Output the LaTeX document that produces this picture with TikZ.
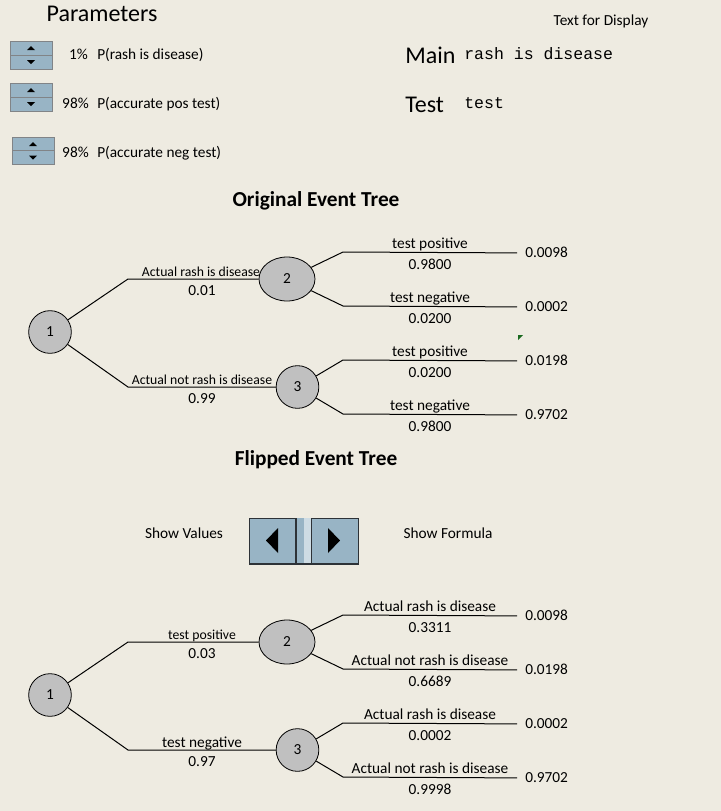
\documentclass[tikz,border=0pt]{standalone}
\usepackage{fontspec}
\setmainfont{Carlito}
\newfontfamily\monofont{Liberation Mono}
\usetikzlibrary{positioning, calc, shapes.geometric}

\definecolor{sheetbg}{RGB}{238,235,225}
\definecolor{nodegray}{RGB}{192,192,192}
\definecolor{btnblue}{RGB}{152,180,197}
\definecolor{btnlight}{RGB}{206,220,228}
\definecolor{btndark}{RGB}{45,50,55}
\definecolor{flaggreen}{RGB}{25,105,30}

\begin{document}
\begin{tikzpicture}[
    x=0.75pt, y=-0.75pt,
    font=\fontsize{11.5}{13}\selectfont,
    chance/.style={draw, circle, minimum size=32pt, inner sep=0pt,
                   fill=nodegray, line width=0.6pt},
    chanceE/.style={draw, ellipse, minimum width=42pt, minimum height=33pt,
                    inner sep=0pt, fill=nodegray, line width=0.6pt},
    branch/.style={line width=0.75pt, black},
    lbl/.style={inner sep=0pt, text height=0.68em, text depth=0pt, yshift=-1pt},
    small/.style={lbl, font=\fontsize{10.3}{12}\selectfont},
    endv/.style={anchor=west, inner xsep=6pt, inner ysep=0pt,
                 text height=0.68em, text depth=0pt, yshift=-0.8pt},
    spin/.style={fill=btnblue, draw=btndark!60, line width=0.5pt},
    bar/.style={fill=btnblue, draw=btndark, line width=0.6pt},
    big/.style={lbl, font=\fontsize{18}{20}\selectfont, yshift=-2pt},
    head/.style={lbl, font=\fontsize{16}{18}\selectfont\bfseries},
    mono/.style={lbl, font=\monofont\fontsize{12.4}{14}\selectfont},
]

% === Sheet ===
\fill[sheetbg] (0,0) rectangle (721,811);
\useasboundingbox (0,0) rectangle (721,811);

% === Parameters ===
\node[big] (ptitle) at (102,13) {Parameters};

\draw[spin] (10,41) rectangle (52,55);
\draw[spin] (10,55) rectangle (52,69);
\fill (27,50) -- (35,50) -- (31,46) -- cycle;
\fill (27,60) -- (35,60) -- (31,64) -- cycle;

\draw[spin] (10,83) rectangle (52,97);
\draw[spin] (10,97) rectangle (52,111);
\fill (27,92) -- (35,92) -- (31,88) -- cycle;
\fill (27,102) -- (35,102) -- (31,106) -- cycle;

\draw[spin] (12,137) rectangle (54,150.5);
\draw[spin] (12,150.5) rectangle (54,164);
\fill (29,146) -- (37,146) -- (33,142) -- cycle;
\fill (29,155.5) -- (37,155.5) -- (33,159.5) -- cycle;

\node[lbl, anchor=east] (pct1) at (88,54) {1\%};
\node[lbl, anchor=west] (par1) at (97,54) {P(rash is disease)};
\node[lbl, anchor=east] (pct2) at (89,103) {98\%};
\node[lbl, anchor=west] (par2) at (97,103) {P(accurate pos test)};
\node[lbl, anchor=east] (pct3) at (89,152) {98\%};
\node[lbl, anchor=west] (par3) at (97,152) {P(accurate neg test)};

% === Text for Display ===
\node[lbl] (dtitle) at (601,20) {Text for Display};
\node[big, anchor=west] (mainlbl) at (405,55) {Main};
\node[mono, anchor=west] (maintxt) at (464,54) {rash is disease};
\node[big, anchor=west] (testlbl) at (405,104) {Test};
\node[mono, anchor=west] (testtxt) at (464,103) {test};

% === Original Event Tree ===
\node[head] (ttl1) at (316,201) {Original Event Tree};

\coordinate (ka2) at (128,279);
\coordinate (ka3) at (128,387);
\coordinate (kb1) at (343,252);
\coordinate (kb2) at (343,306);
\coordinate (kb3) at (343,360);
\coordinate (kb4) at (343,414);

\node[small] at (201,271) {Actual rash is disease};
\node[lbl] at (202,290) {0.01};
\node[small] at (202,379) {Actual not rash is disease};
\node[lbl] at (202,398) {0.99};

\node[chance] (a1) at (50,332) {1};
\node[chanceE] (a2) at (287,279) {2};
\node[chance] (a3) at (297.5,387) {3};

\node[endv] (ea1) at (517,252) {0.0098};
\node[endv] (ea2) at (517,306) {0.0002};
\node[endv] (ea3) at (517,360) {0.0198};
\node[endv] (ea4) at (517,414) {0.9702};

\draw[branch] (a1) -- (ka2) -- (a2);
\draw[branch] (a1) -- (ka3) -- (a3);
\draw[branch] (a2) -- (kb1) -- (ea1);
\draw[branch] (a2) -- (kb2) -- (ea2);
\draw[branch] (a3) -- (kb3) -- (ea3);
\draw[branch] (a3) -- (kb4) -- (ea4);

\node[lbl] at (430,243) {test positive};
\node[lbl] at (430,264) {0.9800};
\node[lbl] at (430,297) {test negative};
\node[lbl] at (430,318) {0.0200};
\node[lbl] at (430,351) {test positive};
\node[lbl] at (430,372) {0.0200};
\node[lbl] at (430,405) {test negative};
\node[lbl] at (430,426) {0.9800};

% comment flag
\fill[flaggreen] (518,335) -- (523,335) -- (518,340) -- cycle;

% === Flipped Event Tree ===
\node[head] (ttl2) at (316,460) {Flipped Event Tree};

\node[lbl] (showval) at (184,533) {Show Values};
\node[lbl] (showform) at (448,533) {Show Formula};

\draw[bar] (249,518) rectangle (295,564);
\fill[btnblue] (296,518) rectangle (304,564);
\fill[btnlight] (304,518) rectangle (311,564);
\draw[bar] (311,518) rectangle (358,564);
\draw[btndark, line width=1.2pt] (296,518) -- (296,564);
\draw[btndark, line width=0.8pt] (249,564) -- (358,564);
\fill (278,528) -- (278,553) -- (266,540.5) -- cycle;
\fill (328,528) -- (328,553) -- (340,540.5) -- cycle;

\coordinate (kc2) at (128,642);
\coordinate (kc3) at (128,750);
\coordinate (kd1) at (343,615);
\coordinate (kd2) at (343,669);
\coordinate (kd3) at (343,723);
\coordinate (kd4) at (343,777);

\node[small] at (202,634) {test positive};
\node[lbl] at (202,653) {0.03};
\node[lbl] at (202,742) {test negative};
\node[lbl] at (202,761) {0.97};

\node[chance] (b1) at (50,695) {1};
\node[chanceE] (b2) at (287,642) {2};
\node[chance] (b3) at (297.5,750) {3};

\node[endv] (eb1) at (517,615) {0.0098};
\node[endv] (eb2) at (517,669) {0.0198};
\node[endv] (eb3) at (517,723) {0.0002};
\node[endv] (eb4) at (517,777) {0.9702};

\draw[branch] (b1) -- (kc2) -- (b2);
\draw[branch] (b1) -- (kc3) -- (b3);
\draw[branch] (b2) -- (kd1) -- (eb1);
\draw[branch] (b2) -- (kd2) -- (eb2);
\draw[branch] (b3) -- (kd3) -- (eb3);
\draw[branch] (b3) -- (kd4) -- (eb4);

\node[lbl] at (430,606) {Actual rash is disease};
\node[lbl] at (430,627) {0.3311};
\node[lbl] at (430,660) {Actual not rash is disease};
\node[lbl] at (430,681) {0.6689};
\node[lbl] at (430,714) {Actual rash is disease};
\node[lbl] at (430,735) {0.0002};
\node[lbl] at (430,768) {Actual not rash is disease};
\node[lbl] at (430,789) {0.9998};

\end{tikzpicture}
\end{document}
